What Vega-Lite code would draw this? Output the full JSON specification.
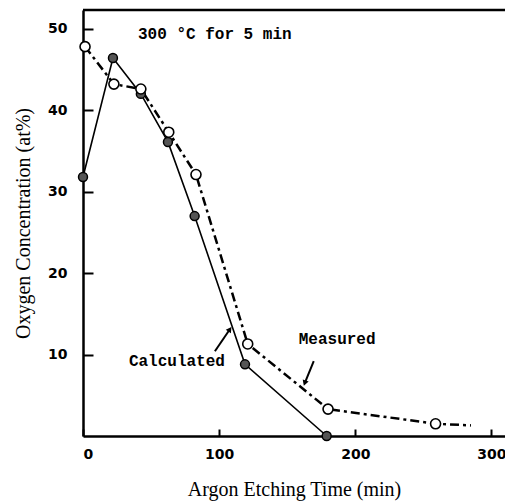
{
  "$schema": "https://vega.github.io/schema/vega-lite/v6.json",
  "width": 422,
  "height": 426,
  "autosize": {"type": "none"},
  "padding": {"left": 83, "top": 10, "right": 0, "bottom": 66},
  "background": "white",
  "config": {
    "view": {"stroke": null},
    "axis": {
      "grid": false,
      "domainColor": "black",
      "domainWidth": 2.5,
      "tickColor": "black",
      "tickWidth": 2,
      "labelFont": "DejaVu Sans",
      "labelFontWeight": "bold",
      "labelFontSize": 14,
      "labelColor": "black",
      "titleFont": "Liberation Serif",
      "titleFontWeight": "normal",
      "titleFontSize": 20,
      "titleColor": "black"
    }
  },
  "datasets": {
    "calc": [
      {"time": 0, "oxygen": 31.8},
      {"time": 22, "oxygen": 46.4},
      {"time": 42.5, "oxygen": 42.0},
      {"time": 62.4, "oxygen": 36.1},
      {"time": 82, "oxygen": 27.0},
      {"time": 119, "oxygen": 8.8},
      {"time": 179, "oxygen": 0}
    ],
    "meas": [
      {"time": 1.5, "oxygen": 47.8, "marker": true},
      {"time": 22.7, "oxygen": 43.2, "marker": true},
      {"time": 42.5, "oxygen": 42.6, "marker": true},
      {"time": 63, "oxygen": 37.3, "marker": true},
      {"time": 83, "oxygen": 32.1, "marker": true},
      {"time": 121, "oxygen": 11.3, "marker": true},
      {"time": 180, "oxygen": 3.3, "marker": true},
      {"time": 259, "oxygen": 1.5, "marker": true},
      {"time": 285, "oxygen": 1.3, "marker": false}
    ],
    "labels": [
      {"text": "300 °C for 5 min", "time": 40.4, "oxygen": 49.3},
      {"text": "Calculated", "time": 33.7, "oxygen": 9.2},
      {"text": "Measured", "time": 158.5, "oxygen": 11.9}
    ],
    "arrows": [
      {"name": "Calculated", "x": 96.9, "y": 10.4, "x2": 107.9, "y2": 13.1},
      {"name": "Measured", "x": 169.5, "y": 9.2, "x2": 162.9, "y2": 6.5}
    ]
  },
  "layer": [
    {
      "data": {"values": [{}]},
      "mark": {"type": "rule", "color": "black", "strokeWidth": 2.5},
      "encoding": {"y": {"datum": 52.3, "scale": {"domain": [0, 52.3], "nice": false}}}
    },
    {
      "data": {"name": "calc"},
      "mark": {"type": "line", "color": "black", "strokeWidth": 1.6},
      "encoding": {
        "x": {
          "field": "time", "type": "quantitative",
          "scale": {"domain": [0, 310], "nice": false},
          "axis": {"values": [0, 100, 200, 300], "title": "Argon Etching Time (min)", "tickSize": -7, "labelPadding": 18, "titlePadding": 18}
        },
        "y": {
          "field": "oxygen", "type": "quantitative",
          "scale": {"domain": [0, 52.3], "nice": false},
          "axis": {"values": [10, 20, 30, 40, 50], "title": "Oxygen Concentration (at%)", "tickSize": -10, "labelPadding": 26, "titlePadding": 14}
        }
      }
    },
    {
      "data": {"name": "meas"},
      "mark": {"type": "line", "color": "black", "strokeWidth": 2.5, "strokeDash": [9, 4, 3, 4]},
      "encoding": {
        "x": {"field": "time", "type": "quantitative"},
        "y": {"field": "oxygen", "type": "quantitative"}
      }
    },
    {
      "data": {"name": "calc"},
      "mark": {"type": "point", "shape": "circle", "filled": true, "fill": "#555555", "stroke": "black", "strokeWidth": 1.5, "size": 80, "opacity": 1},
      "encoding": {
        "x": {"field": "time", "type": "quantitative"},
        "y": {"field": "oxygen", "type": "quantitative"}
      }
    },
    {
      "data": {"name": "meas"},
      "transform": [{"filter": "datum.marker"}],
      "mark": {"type": "point", "shape": "circle", "filled": true, "fill": "white", "stroke": "black", "strokeWidth": 1.6, "size": 100, "opacity": 1},
      "encoding": {
        "x": {"field": "time", "type": "quantitative"},
        "y": {"field": "oxygen", "type": "quantitative"}
      }
    },
    {
      "data": {"name": "labels"},
      "mark": {"type": "text", "font": "Liberation Mono", "fontSize": 16, "fontWeight": "bold", "align": "left", "baseline": "middle", "color": "black"},
      "encoding": {
        "x": {"field": "time", "type": "quantitative"},
        "y": {"field": "oxygen", "type": "quantitative"},
        "text": {"field": "text"}
      }
    },
    {
      "data": {"name": "arrows"},
      "mark": {"type": "rule", "color": "black", "strokeWidth": 2},
      "encoding": {
        "x": {"field": "x", "type": "quantitative"},
        "y": {"field": "y", "type": "quantitative"},
        "x2": {"field": "x2"},
        "y2": {"field": "y2"}
      }
    },
    {
      "data": {"name": "arrows"},
      "transform": [{"filter": "datum.name == 'Calculated'"}],
      "mark": {"type": "point", "shape": "triangle-up", "filled": true, "color": "black", "size": 40, "angle": 35, "opacity": 1},
      "encoding": {
        "x": {"field": "x2", "type": "quantitative"},
        "y": {"field": "y2", "type": "quantitative"}
      }
    },
    {
      "data": {"name": "arrows"},
      "transform": [{"filter": "datum.name == 'Measured'"}],
      "mark": {"type": "point", "shape": "triangle-up", "filled": true, "color": "black", "size": 40, "angle": 200, "opacity": 1},
      "encoding": {
        "x": {"field": "x2", "type": "quantitative"},
        "y": {"field": "y2", "type": "quantitative"}
      }
    }
  ]
}
